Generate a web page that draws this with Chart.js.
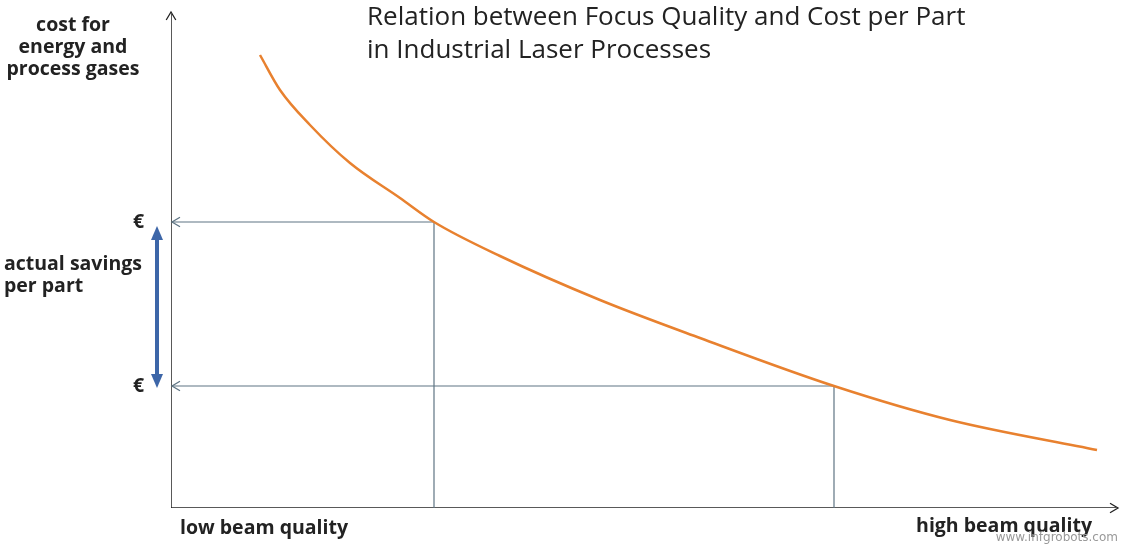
<!DOCTYPE html><html><head><meta charset="utf-8">
<script src="https://cdn.jsdelivr.net/npm/chart.js@4"></script>
<style>html,body{margin:0;background:#fff}#w{width:1126px;height:546px}</style></head><body><div id="w"><canvas id="c"></canvas></div>
<script>
const curveX=[89,109,139,179,229,263,329,429,529,663,779,926];
const curveY=[453,418,383,345,310,286,252,208,170,122,88,58];
const guideA={x:263,y:286}, guideB={x:663,y:122};
const titleLines=["Relation between Focus Quality and Cost per Part","in Industrial Laser Processes"];
const yLabel=["cost for","energy and","process gases"];
const savingsLabel=["actual savings","per part"];
const xLabels=["low beam quality","high beam quality"];
const guideColor="#5f7584";
const ds=[
 {data:curveX.map((x,i)=>({x,y:curveY[i]})),borderColor:"#e8812f",borderWidth:2.5,cubicInterpolationMode:"monotone",pointRadius:0},
 {data:[{x:guideA.x,y:0},{x:guideA.x,y:guideA.y},{x:1,y:guideA.y}],borderColor:guideColor,borderWidth:1.2,pointRadius:0},
 {data:[{x:guideB.x,y:0},{x:guideB.x,y:guideB.y},{x:1,y:guideB.y}],borderColor:guideColor,borderWidth:1.2,pointRadius:0},
 {data:[{x:0,y:0},{x:0,y:494}],borderColor:"#222",borderWidth:1.5,pointRadius:0},
 {data:[{x:0,y:0},{x:945,y:0}],borderColor:"#222",borderWidth:1.5,pointRadius:0},
 {data:[{x:-14,y:274},{x:-14,y:128}],borderColor:"#3d66a8",borderWidth:4,pointRadius:0,clip:false}
];
const deco={id:'deco',afterDatasetsDraw(ch){
 const c=ch.ctx,X=ch.scales.x,Y=ch.scales.y;
 const px=v=>X.getPixelForValue(v),py=v=>Y.getPixelForValue(v);
 c.save();
 function open(x,y,dx,dy,col){c.strokeStyle=col;c.lineWidth=1.3;c.beginPath();
  const s=8;c.moveTo(x+dx*s-dy*s*0.6,y+dy*s+dx*s*0.6);c.lineTo(x,y);c.lineTo(x+dx*s+dy*s*0.6,y+dy*s-dx*s*0.6);c.stroke();}
 open(px(0),py(496),0,1,"#222"); open(px(947),py(0),-1,0,"#222");
 open(px(1),py(guideA.y),1,0,guideColor); open(px(1),py(guideB.y),1,0,guideColor);
 c.fillStyle="#3d66a8";
 const bx=px(-14);
 c.beginPath();c.moveTo(bx,py(282));c.lineTo(bx-6,py(268));c.lineTo(bx+6,py(268));c.fill();
 c.beginPath();c.moveTo(bx,py(120));c.lineTo(bx-6,py(134));c.lineTo(bx+6,py(134));c.fill();
 c.fillStyle="#222";c.textBaseline="middle";
 c.font="26px 'Open Sans'";c.textAlign="left";
 titleLines.forEach((t,i)=>c.fillText(t,367,18+i*33));
 c.font="bold 19.5px 'Open Sans'";c.textAlign="center";
 yLabel.forEach((t,i)=>c.fillText(t,73,25+i*22));
 c.textAlign="left";
 savingsLabel.forEach((t,i)=>c.fillText(t,4,264+i*22));
 c.fillText("€",133,py(guideA.y));c.fillText("€",133,py(guideB.y));
 c.fillText(xLabels[0],180,528);c.textAlign="right";c.fillText(xLabels[1],1092,526);
 c.font="12px 'DejaVu Sans'";c.fillStyle="#999";c.fillText("www.infgrobots.com",1118,538);
 c.restore();}};
new Chart(document.getElementById('c'),{type:'line',data:{datasets:ds},plugins:[deco],
 options:{responsive:true,maintainAspectRatio:false,animation:false,
 layout:{padding:{left:171,right:8,top:10,bottom:38}},
 plugins:{legend:{display:false},tooltip:{enabled:false}},
 scales:{x:{type:'linear',min:0,max:947,display:false},y:{min:0,max:498,display:false}}}});
</script></body></html>
